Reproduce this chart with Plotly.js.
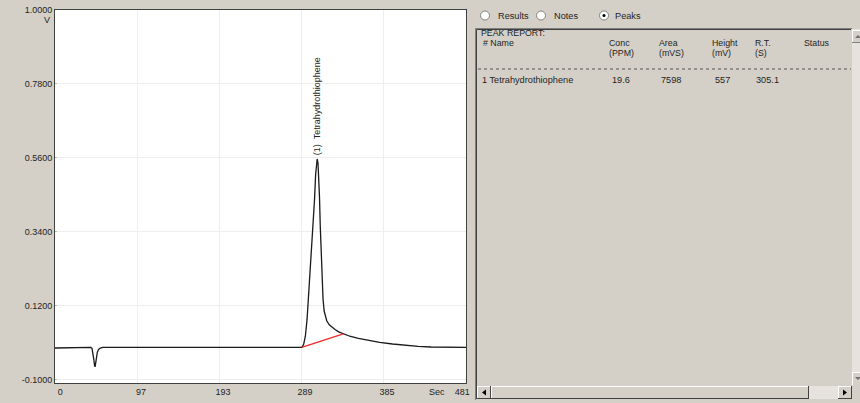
<!DOCTYPE html>
<html>
<head>
<meta charset="utf-8">
<script src="https://cdn.plot.ly/plotly-3.0.1.min.js"></script>
<style>
html,body{margin:0;padding:0;background:#D4D0C8;}
#chart{width:860px;height:403px;}
</style>
</head>
<body>
<div id="chart"></div>
<script>
// ---------------- data ----------------
const time = [0, 8, 15, 17, 30, 40, 42, 43.3, 44.5, 45.5, 46.3, 46.9, 47.6, 48.5, 49.5, 51, 53, 56, 80, 120, 140, 145, 200, 250, 285,
  289, 291, 293, 295, 296.5, 298.5, 300.8, 302.5, 303.7, 305, 306, 306.8, 307.8, 308.8, 309.6, 310.4, 311.3, 312.4, 313.7,
  315, 316.5, 318, 321, 324, 327.7, 332, 337.4, 345, 355, 368, 380, 395, 410, 425, 440, 455, 470, 481];
const signal = [-0.005, -0.005, -0.005, -0.003, -0.003, -0.003, -0.003, -0.006, -0.02, -0.04, -0.057, -0.061, -0.05, -0.032, -0.018, -0.009, -0.005, -0.003, -0.003, -0.003, -0.002, -0.004, -0.004, -0.004, -0.004,
  -0.003, 0.006, 0.03, 0.08, 0.14, 0.21, 0.29, 0.37, 0.435, 0.51, 0.55, 0.557, 0.545, 0.5, 0.44, 0.36, 0.28, 0.2, 0.14,
  0.105, 0.088, 0.076, 0.064, 0.057, 0.05, 0.043, 0.037, 0.03, 0.024, 0.017, 0.012, 0.007, 0.003, 0.0, -0.002, -0.003, -0.003, -0.003];
const baselineTime = [288.7, 337.4];
const baselineSignal = [-0.003, 0.037];

const xTickVals = [0, 97, 193, 289, 385, 481];
const xTickText = ['\u20020', '97', '193', '289', '385', '481\u2002\u2002\u2002'];
const yTickVals = [-0.1, 0.12, 0.34, 0.56, 0.78, 1.0];
const yTickText = ['-0.1000', '0.1200', '0.3400', '0.5600', '0.7800', '1.0000'];

const peakTime = 306.8;
const peakValue = 0.557;
const peakLabel = '(1)  Tetrahydrothiophene';

const radioLabels = ['Results', 'Notes', 'Peaks'];
const reportColumns = ['Conc', 'Area', 'Height', 'R.T.', 'Status'];
const reportUnits = ['(PPM)', '(mVS)', '(mV)', '(S)', ''];
const peakNames = ['1 Tetrahydrothiophene'];
const peakConc = ['19.6'];
const peakArea = ['7598'];
const peakHeight = ['557'];
const peakRT = ['305.1'];

// ---------------- layout helpers (pixel -> paper) ----------------
const L = 55, T = 10, W = 411, H = 373;
const px = x => (x - L) / W;
const py = y => (T + H - y) / H;
const FONT = 'Liberation Sans, Arial, sans-serif';
const TXT = '#1e1e1e';

const shapes = [];
const annotations = [];

function line(x0, y0, x1, y1, color, width, dash) {
  shapes.push({type: 'line', xref: 'paper', yref: 'paper', x0: px(x0), y0: py(y0), x1: px(x1), y1: py(y1),
    line: {color: color, width: width || 1, dash: dash || 'solid'}});
}
function rect(x0, y0, x1, y1, fill, lineColor) {
  shapes.push({type: 'rect', xref: 'paper', yref: 'paper', x0: px(x0), y0: py(y0), x1: px(x1), y1: py(y1),
    fillcolor: fill, line: {color: lineColor || fill, width: lineColor ? 1 : 0}, layer: 'above'});
}
function circle(cx, cy, r, fill, lineColor) {
  shapes.push({type: 'circle', xref: 'paper', yref: 'paper', x0: px(cx - r), y0: py(cy + r), x1: px(cx + r), y1: py(cy - r),
    fillcolor: fill, line: {color: lineColor || fill, width: lineColor ? 1 : 0}, layer: 'above'});
}
function tri(pts, color) {
  let d = 'M ' + pts.map(p => px(p[0]) + ' ' + py(p[1])).join(' L ') + ' Z';
  shapes.push({type: 'path', xref: 'paper', yref: 'paper', path: d, fillcolor: color, line: {color: color, width: 0}, layer: 'above'});
}
function text(t, x, y, anchor, size) {
  annotations.push({text: t, xref: 'paper', yref: 'paper', x: px(x), y: py(y), xanchor: anchor || 'left', yanchor: 'middle',
    showarrow: false, font: {family: FONT, size: size || 9.2, color: TXT}});
}

// ---------------- right panel ----------------
const radioX = [485, 541, 604];
const radioTextX = [496, 552, 613];
radioLabels.forEach((lab, i) => {
  circle(radioX[i], 15.5, 4.5, '#ffffff', '#808080');
  if (i === 2) circle(radioX[i], 15.5, 1.5, '#000000');
  text(lab, radioTextX[i], 15.5, 'left', 9.2);
});

// sunken report box
line(475.5, 28.5, 852, 28.5, '#808080', 1);
line(475.5, 28.5, 475.5, 400, '#808080', 1);
line(476.5, 29.5, 851, 29.5, '#404040', 1);
line(476.5, 29.5, 476.5, 399, '#404040', 1);

// header
text('PEAK REPORT:', 478.5, 33, 'left', 8.8);
text('# Name', 480.5, 43.5, 'left', 8.8);
const colX = [607, 657, 710, 753, 801.5];
reportColumns.forEach((c, i) => {
  text(c, colX[i], 43.5, 'left', 8.8);
  if (reportUnits[i]) text(reportUnits[i], colX[i], 53.5, 'left', 8.8);
});
line(478, 69, 851, 69, '#555555', 1, 'dot');

// rows
peakNames.forEach((n, i) => {
  const y = 80.3;
  text(n, 480, y, 'left');
  text(peakConc[i], 632, y, 'right');
  text(peakArea[i], 683, y, 'right');
  text(peakHeight[i], 732, y, 'right');
  text(peakRT[i], 781, y, 'right');
});

// vertical scrollbar (partially visible)
rect(852, 29, 860, 384, '#e6e3de');
rect(852, 30, 861, 43, '#D4D0C8');
line(852.5, 30, 852.5, 43, '#ffffff', 1);
line(852.5, 30.5, 861, 30.5, '#ffffff', 1);
line(852, 42.5, 861, 42.5, '#808080', 1);
tri([[855, 38], [861, 38], [858, 35]], '#707070');
rect(852, 372, 861, 385, '#D4D0C8');
line(852.5, 372, 852.5, 385, '#ffffff', 1);
line(852.5, 372.5, 861, 372.5, '#ffffff', 1);
tri([[855, 377], [861, 377], [858, 380]], '#707070');

// horizontal scrollbar
rect(477, 386, 852, 399, '#e6e3de');
function button(x0, y0, x1, y1) {
  rect(x0, y0, x1, y1, '#D4D0C8');
  line(x0 + 0.5, y0, x0 + 0.5, y1, '#ffffff', 1);
  line(x0, y0 + 0.5, x1, y0 + 0.5, '#ffffff', 1);
  line(x1 - 0.5, y0, x1 - 0.5, y1, '#404040', 1);
  line(x0, y1 - 0.5, x1, y1 - 0.5, '#404040', 1);
}
button(477, 386, 491, 399);
tri([[482, 392.5], [486, 389.5], [486, 395.5]], '#000000');
button(491, 386, 809, 399);
button(838, 386, 852, 399);
tri([[847, 392.5], [843, 389.5], [843, 395.5]], '#000000');

// ---------------- chart annotations ----------------
annotations.push({text: 'V', xref: 'paper', yref: 'paper', x: 0, y: 1, xshift: -3, yshift: -10, xanchor: 'right', yanchor: 'middle',
  showarrow: false, font: {family: FONT, size: 9, color: TXT}});
annotations.push({text: 'Sec', xref: 'paper', yref: 'paper', x: px(437), y: py(392), xanchor: 'center', yanchor: 'middle',
  showarrow: false, font: {family: FONT, size: 9, color: TXT}});
annotations.push({text: peakLabel, x: peakTime, y: peakValue, xref: 'x', yref: 'y', textangle: -90, xanchor: 'center', yanchor: 'bottom',
  yshift: 2, showarrow: false, font: {family: FONT, size: 9, color: TXT}});

// ---------------- traces ----------------
const traces = [
  {x: time, y: signal, type: 'scatter', mode: 'lines', line: {color: '#1a1a1a', width: 1.3}, hoverinfo: 'skip'},
  {x: baselineTime, y: baselineSignal, type: 'scatter', mode: 'lines', line: {color: '#ee2a2a', width: 1.3}, hoverinfo: 'skip'}
];

const layout = {
  width: 860, height: 403,
  paper_bgcolor: '#D4D0C8', plot_bgcolor: '#ffffff',
  margin: {l: L, r: 860 - L - W, t: T, b: 403 - T - H, pad: 0},
  showlegend: false,
  font: {family: FONT, size: 9, color: TXT},
  xaxis: {range: [0, 481], tickvals: xTickVals, ticktext: xTickText, showgrid: true, gridcolor: '#eeeeee',
    zeroline: false, showline: true, linecolor: '#404040', linewidth: 1, mirror: true, ticks: '',
    ticklabelshift: 3, tickfont: {family: FONT, size: 9, color: TXT}, fixedrange: true},
  yaxis: {range: [-0.109, 1.0], tickvals: yTickVals, ticktext: yTickText, showgrid: true, gridcolor: '#eeeeee',
    zeroline: false, showline: true, linecolor: '#404040', linewidth: 1, mirror: true, ticks: 'inside', ticklen: 2,
    tickcolor: '#bbbbbb', tickfont: {family: FONT, size: 9, color: TXT}, fixedrange: true},
  shapes: shapes,
  annotations: annotations
};

Plotly.newPlot('chart', traces, layout, {staticPlot: true, displayModeBar: false});
</script>
</body>
</html>
